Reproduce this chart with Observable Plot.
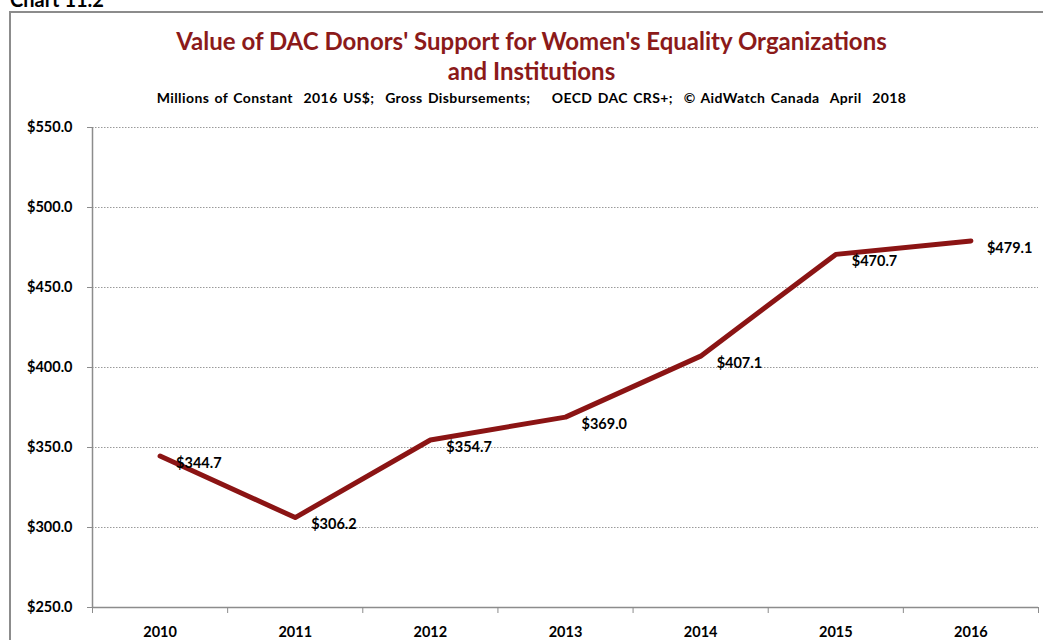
<!DOCTYPE html>
<html><head><meta charset="utf-8">
<script src="https://cdn.jsdelivr.net/npm/d3@7"></script>
<script src="https://cdn.jsdelivr.net/npm/@observablehq/plot@0.6"></script>
<style>
body{margin:0;width:1043px;height:640px;overflow:hidden;background:#fff;font-family:Lato,"Open Sans",sans-serif;position:relative}
#lbl{position:absolute;left:10px;top:-13px;font-weight:bold;font-size:20px;color:#000}
#box{position:absolute;left:9px;top:11px;width:1100px;height:700px;border:2px solid #8c8c8c;box-sizing:border-box}
#title{position:absolute;left:0;top:26px;width:1063px;text-align:center;font-weight:bold;font-size:24px;line-height:30px;color:#8b1a1a}
#sub{position:absolute;left:0;top:90px;width:1063px;text-align:center;font-weight:bold;font-size:14px;line-height:16px;color:#000;white-space:pre;letter-spacing:0.4px;word-spacing:1.5px}
#chart{position:absolute;left:0;top:110px}
</style></head>
<body>
<div id="lbl">Chart 11.2</div>
<div id="box"></div>
<div id="chart"></div>
<div id="title">Value of DAC Donors' Support for Women's Equality Organizations<br>and Institutions</div>
<div id="sub">Millions of Constant  2016 US$;  Gross Disbursements;    OECD DAC CRS+;  © AidWatch Canada  April  2018</div>
<script>
const years = [2010, 2011, 2012, 2013, 2014, 2015, 2016];
const values = [344.7, 306.2, 354.7, 369.0, 407.1, 470.7, 479.1];
const yTicks = [250, 300, 350, 400, 450, 500, 550];

const data = years.map((year, i) => ({year, value: values[i]}));
const bounds = years.map(y => y - 0.5).concat([years[years.length - 1] + 0.5]);
const money = v => "$" + v.toFixed(1);

const chart = Plot.plot({
  width: 1043, height: 530,
  marginLeft: 92, marginRight: 5, marginTop: 17, marginBottom: 33,
  style: {fontFamily: "Lato, 'Open Sans', sans-serif", fontWeight: "bold", fontSize: "14.5px", color: "#000", background: "transparent", overflow: "visible"},
  x: {type: "linear", domain: [bounds[0], bounds[bounds.length - 1]], label: null},
  y: {domain: [yTicks[0], yTicks[yTicks.length - 1]], label: null},
  marks: [
    Plot.gridY(yTicks.slice(1), {stroke: "#9a9a9a", strokeOpacity: 1, strokeDasharray: "1.5,1.5"}),
    Plot.ruleY([yTicks[0]], {stroke: "#8c8c8c", strokeWidth: 1.5}),
    Plot.ruleX([bounds[0]], {stroke: "#8c8c8c", strokeWidth: 1.5}),
    Plot.axisY(yTicks, {tickSize: 5, tickPadding: 15, tickFormat: money, stroke: "#8c8c8c", fill: "#000", label: null}),
    Plot.axisX(years, {tickSize: 0, tickPadding: 19, tickFormat: d => String(d), fill: "#000", label: null}),
    Plot.axisX(bounds, {tickSize: 6, tickFormat: () => "", stroke: "#8c8c8c", label: null}),
    Plot.line(data, {x: "year", y: "value", stroke: "#8b1414", strokeWidth: 5, strokeLinecap: "round", strokeLinejoin: "round"}),
    Plot.text(data, {x: "year", y: "value", text: d => money(d.value), textAnchor: "start", dx: 16, dy: 7, fontSize: 14.5, fontWeight: "bold", fill: "#000"})
  ]
});
document.getElementById("chart").appendChild(chart);
</script>
</body></html>
